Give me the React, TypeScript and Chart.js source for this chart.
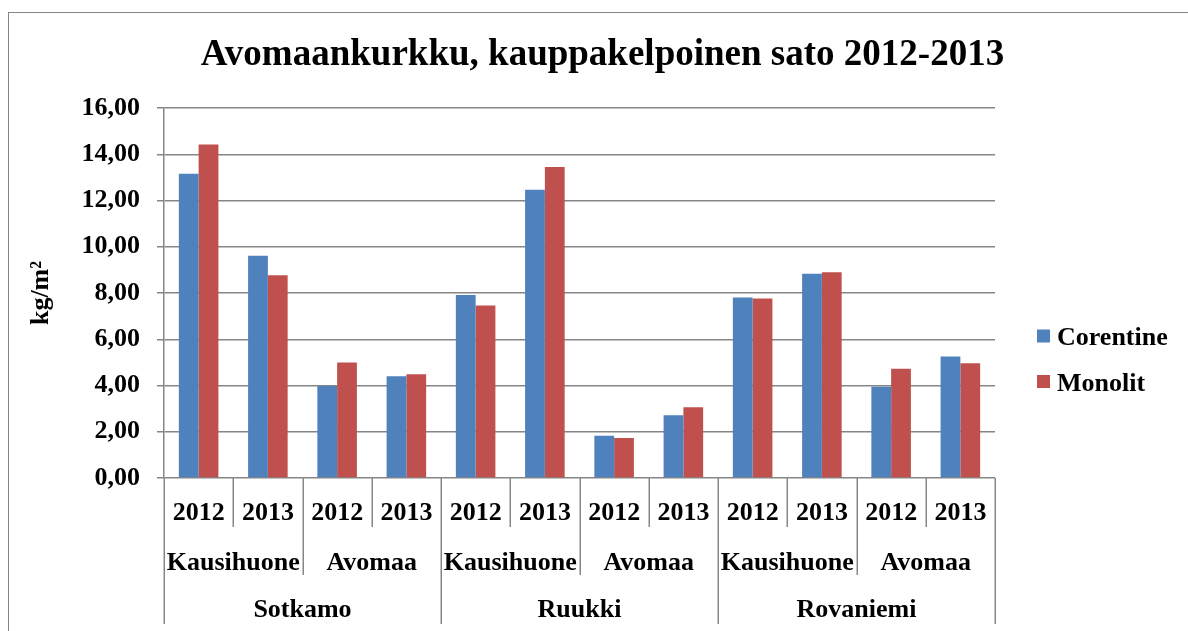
import React, { useEffect, useRef } from "react";
import { Chart, registerables } from "chart.js";

Chart.register(...registerables);

const chartTitle = "Avomaankurkku, kauppakelpoinen sato 2012-2013";
const yAxisTitle = "kg/m²";
const yearLabels = ["2012", "2013", "2012", "2013", "2012", "2013", "2012", "2013", "2012", "2013", "2012", "2013"];
const groupLabels = ["Kausihuone", "Avomaa", "Kausihuone", "Avomaa", "Kausihuone", "Avomaa"];
const siteLabels = ["Sotkamo", "Ruukki", "Rovaniemi"];
const seriesNames = ["Corentine", "Monolit"];
const corentine = [13.16, 9.61, 3.98, 4.4, 7.91, 12.47, 1.83, 2.71, 7.81, 8.83, 3.95, 5.25];
const monolit = [14.42, 8.77, 4.99, 4.49, 7.46, 13.45, 1.73, 3.06, 7.76, 8.9, 4.72, 4.96];
const seriesColors = ["#4F81BD", "#C0504D"];

const FONT = "'Liberation Serif', 'Times New Roman', serif";
const GRID = "#868686";

const decorPlugin = {
  id: "decor",
  afterDraw(chart: any) {
    const ctx = chart.ctx;
    const xs = chart.scales.x;
    const area = chart.chartArea;
    const px = (i: number) => xs.getPixelForValue(i);
    const w = px(1) - px(0);
    const boundary = (i: number) => px(i) - w / 2;
    const axisY = area.bottom;
    ctx.save();
    // title
    ctx.fillStyle = "#000";
    ctx.font = `bold 37px ${FONT}`;
    ctx.textAlign = "center";
    ctx.textBaseline = "alphabetic";
    ctx.fillText(chartTitle, 602.5, 65);
    // y axis title
    ctx.save();
    ctx.translate(41, 293);
    ctx.rotate(-Math.PI / 2);
    ctx.font = `bold 26px ${FONT}`;
    ctx.textBaseline = "middle";
    ctx.fillText(yAxisTitle, 0, 0);
    ctx.restore();
    // separators
    ctx.strokeStyle = GRID;
    ctx.lineWidth = 1.5;
    const n = yearLabels.length;
    for (let i = 0; i <= n; i++) {
      let bottom = 527;
      if (i % 4 === 0) bottom = 624;
      else if (i % 2 === 0) bottom = 575;
      const x = Math.round(boundary(i)) + 0.25;
      ctx.beginPath();
      ctx.moveTo(x, axisY);
      ctx.lineTo(x, bottom);
      ctx.stroke();
    }
    // labels
    ctx.fillStyle = "#000";
    ctx.font = `bold 26px ${FONT}`;
    ctx.textAlign = "center";
    ctx.textBaseline = "alphabetic";
    yearLabels.forEach((t, i) => ctx.fillText(t, px(i), 519.5));
    groupLabels.forEach((t, g) => ctx.fillText(t, (px(g * 2) + px(g * 2 + 1)) / 2, 570));
    siteLabels.forEach((t, s) => ctx.fillText(t, (px(s * 4) + px(s * 4 + 3)) / 2, 617));
    // legend
    const legendY = [336, 381.5];
    seriesNames.forEach((name, k) => {
      ctx.fillStyle = seriesColors[k];
      ctx.fillRect(1037, legendY[k] - 6.5, 13, 13);
      ctx.fillStyle = "#000";
      ctx.textAlign = "left";
      ctx.textBaseline = "alphabetic";
      ctx.fillText(name, 1057, legendY[k] + 9);
    });
    ctx.restore();
  },
};

export default function App() {
  const ref = useRef<HTMLCanvasElement | null>(null);
  useEffect(() => {
    if (!ref.current) return;
    const chart = new Chart(ref.current, {
      type: "bar",
      data: {
        labels: yearLabels,
        datasets: [
          { label: seriesNames[0], data: corentine, backgroundColor: seriesColors[0] },
          { label: seriesNames[1], data: monolit, backgroundColor: seriesColors[1] },
        ],
      },
      options: {
        responsive: false,
        animation: false,
        devicePixelRatio: 1,
        layout: { padding: { left: 0, top: 108, right: 193, bottom: 0 } },
        datasets: { bar: { categoryPercentage: 0.571, barPercentage: 1 } },
        plugins: {
          legend: { display: false },
          title: { display: false },
          tooltip: { enabled: false },
        },
        scales: {
          x: {
            offset: true,
            grid: { display: false, drawTicks: false },
            border: { display: false },
            ticks: { display: false },
            afterFit: (s: any) => {
              s.height = 153;
            },
          },
          y: {
            min: 0,
            max: 16,
            ticks: {
              stepSize: 2,
              padding: 17,
              color: "#000",
              font: { family: FONT, size: 26, weight: "bold" },
              callback: (v: any) => Number(v).toFixed(2).replace(".", ","),
            },
            grid: { color: GRID, lineWidth: 1.5, tickLength: 7, drawTicks: true },
            border: { color: GRID, width: 1.5 },
            afterFit: (s: any) => {
              s.width = 164;
            },
          },
        },
      },
      plugins: [decorPlugin],
    });
    return () => chart.destroy();
  }, []);
  return (
    <div style={{ position: "fixed", left: 0, top: 0, width: 1188, height: 631, background: "#fff", overflow: "hidden" }}>
      <div style={{ position: "absolute", left: 8, top: 12, width: 1200, height: 640, border: "1px solid #868686" }} />
      <canvas ref={ref} width={1188} height={631} style={{ position: "absolute", left: 0, top: 0, width: 1188, height: 631 }} />
    </div>
  );
}
